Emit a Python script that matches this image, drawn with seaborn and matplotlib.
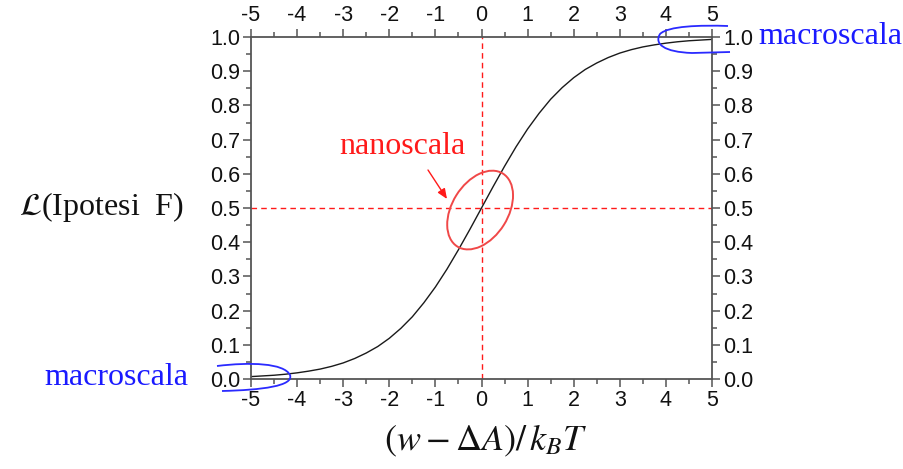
import numpy as np
import pandas as pd
import matplotlib
matplotlib.use("Agg")
import matplotlib.pyplot as plt
import seaborn as sns
from matplotlib.path import Path
from matplotlib.patches import PathPatch, Ellipse
from matplotlib.ticker import MultipleLocator
from matplotlib.transforms import ScaledTranslation

# Likelihood of hypothesis F versus (w - ΔA)/k_B T
x_vals = [-5.0, -4.75, -4.5, -4.25, -4.0, -3.75, -3.5, -3.25, -3.0, -2.75, -2.5,
          -2.25, -2.0, -1.75, -1.5, -1.25, -1.0, -0.75, -0.5, -0.25, 0.0,
          0.25, 0.5, 0.75, 1.0, 1.25, 1.5, 1.75, 2.0, 2.25, 2.5,
          2.75, 3.0, 3.25, 3.5, 3.75, 4.0, 4.25, 4.5, 4.75, 5.0]
likelihood = [0.007, 0.009, 0.011, 0.014, 0.018, 0.023, 0.029, 0.037, 0.047, 0.060, 0.076,
              0.095, 0.119, 0.148, 0.182, 0.223, 0.269, 0.321, 0.378, 0.438, 0.500,
              0.562, 0.622, 0.679, 0.731, 0.777, 0.818, 0.852, 0.881, 0.905, 0.924,
              0.940, 0.953, 0.963, 0.971, 0.977, 0.982, 0.986, 0.989, 0.991, 0.993]
x_ticks = [-5, -4, -3, -2, -1, 0, 1, 2, 3, 4, 5]
y_ticks = [0.0, 0.1, 0.2, 0.3, 0.4, 0.5, 0.6, 0.7, 0.8, 0.9, 1.0]

df = pd.DataFrame({"x": x_vals, "L": likelihood})

sns.set_style("ticks")
plt.rcParams["font.family"] = ["Liberation Sans", "DejaVu Sans"]
plt.rcParams["mathtext.fontset"] = "stix"

W, H = 904, 469
fig = plt.figure(figsize=(W / 100, H / 100), dpi=100)
ax = fig.add_axes([251 / W, 1 - 379 / H, 461 / W, 342 / H])


def fx(px, py):
    return px / W, 1 - py / H


axis_grey = "#555555"

sns.lineplot(data=df, x="x", y="L", ax=ax, color="#1a1a1a", lw=1.0)

# reference lines through the midpoint
ax.axvline(0, color="#ff1a1a", lw=1.0, ls=(0, (4, 3)), zorder=1)
ax.axhline(0.5, color="#ff1a1a", lw=1.0, ls=(0, (4, 3)), zorder=1)

ax.set_xlim(-5, 5)
ax.set_ylim(0, 1)
ax.set_xticks(x_ticks)
ax.set_yticks(y_ticks)
ax.set_xticklabels([str(t) for t in x_ticks])
ax.set_yticklabels([f"{t:.1f}" for t in y_ticks])
ax.xaxis.set_minor_locator(MultipleLocator(0.5))
ax.yaxis.set_minor_locator(MultipleLocator(0.05))
ax.set_xlabel("")
ax.set_ylabel("")

for s in ax.spines.values():
    s.set_visible(True)
    s.set_color(axis_grey)
    s.set_linewidth(1.3)

ax.tick_params(which="both", direction="out", top=True, right=True,
               labeltop=True, labelright=True, color=axis_grey, width=1.1)
ax.tick_params(which="major", length=6, labelsize=15.5, labelcolor="#111111", pad=2)
ax.tick_params(which="minor", length=3.5)

# axis titles
fig.text(*fx(101, 207), r"$\mathcal{L}$(Ipotesi  F)", family="Liberation Serif",
         fontsize=23, ha="center", va="center", color="#111111")
fig.text(*fx(486, 441), r"$\left(w-\Delta A\right)/\,k_B T$", fontsize=26,
         ha="center", va="center", color="#111111")

# annotations
fig.text(*fx(402, 146), "nanoscala", family="Liberation Serif", fontsize=23,
         ha="center", va="center", color="#ff1a1a")
fig.text(*fx(758, 36), "macroscala", family="Liberation Serif", fontsize=23,
         ha="left", va="center", color="#1a1aff")
fig.text(*fx(116, 377), "macroscala", family="Liberation Serif", fontsize=23,
         ha="center", va="center", color="#1a1aff")

ax.annotate("", xy=fx(447, 199), xytext=fx(428, 170),
            xycoords="figure fraction", textcoords="figure fraction",
            arrowprops=dict(arrowstyle="-|>,head_length=0.6,head_width=0.25",
                            color="#ff1a1a", lw=1.0, shrinkA=0, shrinkB=0))

# red ring around the midpoint, sized in inches at the data centre
ring_tr = fig.dpi_scale_trans + ScaledTranslation(-0.03, 0.494, ax.transData)
ax.add_patch(Ellipse((0, 0), 0.86, 0.56, angle=58, transform=ring_tr,
                     fill=False, ec="#f04848", lw=1.4, clip_on=False, zorder=5))


def loop(points, codes):
    verts = [fx(*p) for p in points]
    return PathPatch(Path(verts, codes), transform=fig.transFigure, fill=False,
                     ec="#2a2aff", lw=1.3, clip_on=False)


C4 = Path.CURVE4
fig.patches.append(loop(
    [(728, 26), (700, 25), (668, 26), (660, 34), (654, 44), (664, 52), (692, 53), (730, 52)],
    [Path.MOVETO, C4, C4, C4, C4, C4, C4, Path.LINETO]))
fig.patches.append(loop(
    [(217, 366), (250, 362), (284, 363), (290, 375), (294, 386), (262, 390), (222, 391)],
    [Path.MOVETO, C4, C4, C4, C4, C4, C4]))

fig.savefig("out.png", dpi=100)
